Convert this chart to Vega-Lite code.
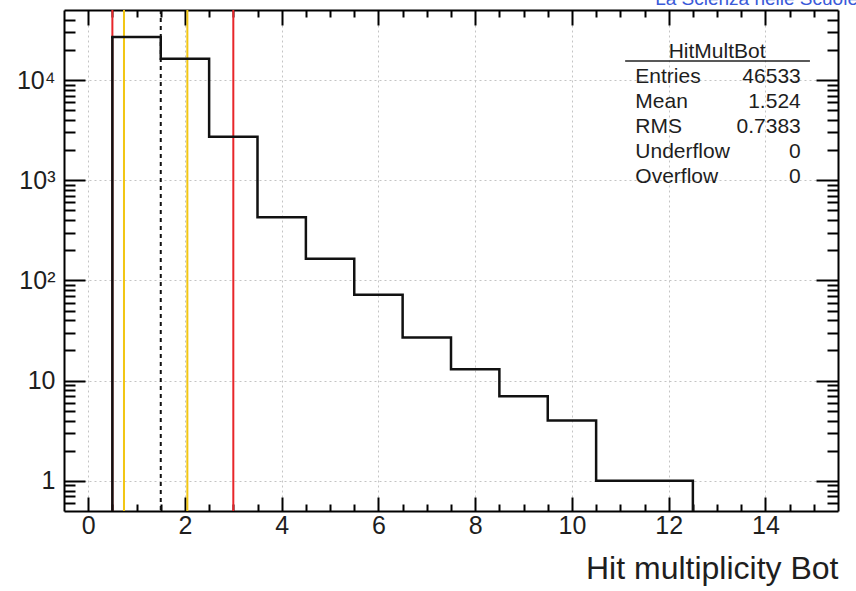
{
  "$schema": "https://vega.github.io/schema/vega-lite/v6.json",
  "width": 774,
  "height": 501,
  "autosize": {"type": "none"},
  "padding": {"left": 64, "top": 10, "right": 18, "bottom": 80},
  "background": "white",
  "config": {
    "view": {"stroke": null},
    "font": "Liberation Sans",
    "axis": {
      "labelFont": "Liberation Sans",
      "titleFont": "Liberation Sans",
      "labelColor": "#1e1e1e",
      "titleColor": "#1e1e1e",
      "domainColor": "#000000",
      "domainWidth": 2,
      "tickColor": "#000000",
      "tickWidth": 2,
      "gridColor": "#c4c4c4",
      "gridDash": [2, 3],
      "gridWidth": 1,
      "labelOverlap": false,
      "labelFlush": false,
      "zindex": 1
    }
  },
  "datasets": {
    "bins": [
      {"left": 0.5, "right": 1.5, "count": 26822},
      {"left": 1.5, "right": 2.5, "count": 16273},
      {"left": 2.5, "right": 3.5, "count": 2720},
      {"left": 3.5, "right": 4.5, "count": 428},
      {"left": 4.5, "right": 5.5, "count": 165},
      {"left": 5.5, "right": 6.5, "count": 72},
      {"left": 6.5, "right": 7.5, "count": 27},
      {"left": 7.5, "right": 8.5, "count": 13},
      {"left": 8.5, "right": 9.5, "count": 7},
      {"left": 9.5, "right": 10.5, "count": 4},
      {"left": 10.5, "right": 11.5, "count": 1},
      {"left": 11.5, "right": 12.5, "count": 1}
    ],
    "cuts": [
      {"pos": 0.5, "style": "red"},
      {"pos": 3.0, "style": "red"},
      {"pos": 0.74, "style": "yellow"},
      {"pos": 2.05, "style": "yellow"},
      {"pos": 1.5, "style": "dashed"}
    ],
    "stats": [
      {"stat": "HitMultBot", "value": ""},
      {"stat": "Entries", "value": "46533"},
      {"stat": "Mean", "value": "1.524"},
      {"stat": "RMS", "value": "0.7383"},
      {"stat": "Underflow", "value": "0"},
      {"stat": "Overflow", "value": "0"}
    ]
  },
  "resolve": {
    "scale": {"y": "independent"},
    "axis": {"x": "independent", "y": "independent"}
  },
  "layer": [
    {
      "resolve": {"axis": {"x": "independent", "y": "independent"}},
      "layer": [
        {
          "data": {"name": "cuts"},
          "mark": {"type": "rule", "strokeWidth": 2},
          "encoding": {
            "x": {"field": "pos", "type": "quantitative", "scale": {"domain": [-0.5, 15.5], "nice": false, "zero": false}, "axis": null},
            "color": {"field": "style", "type": "nominal", "scale": {"domain": ["red", "yellow", "dashed"], "range": ["#e8262a", "#f2c614", "#111111"]}, "legend": null},
            "strokeDash": {"field": "style", "type": "nominal", "scale": {"domain": ["red", "yellow", "dashed"], "range": [[1, 0], [1, 0], [4, 4]]}, "legend": null}
          }
        },
        {
          "data": {"name": "bins"},
          "transform": [{"fold": ["left", "right"], "as": ["edge", "x"]}],
          "mark": {"type": "line", "color": "#111111", "strokeWidth": 2.5, "strokeJoin": "miter", "strokeCap": "square"},
          "encoding": {
            "x": {
              "field": "x", "type": "quantitative",
              "scale": {"domain": [-0.5, 15.5], "nice": false, "zero": false},
              "axis": {
                "orient": "bottom",
                "values": [0, 0.5, 1, 1.5, 2, 2.5, 3, 3.5, 4, 4.5, 5, 5.5, 6, 6.5, 7, 7.5, 8, 8.5, 9, 9.5, 10, 10.5, 11, 11.5, 12, 12.5, 13, 13.5, 14, 14.5, 15],
                "labelExpr": "datum.value % 2 == 0 ? format(datum.value, 'd') : ''",
                "labelFontSize": 25,
                "labelBaseline": "top",
                "labelPadding": 16,
                "tickSize": {"condition": {"test": "datum.value % 2 == 0", "value": -14}, "value": -7},
                "gridOpacity": {"condition": {"test": "datum.value % 2 == 0", "value": 1}, "value": 0},
                "grid": true,
                "title": "Hit multiplicity Bot",
                "titleFontSize": 32,
                "titleFontWeight": "normal",
                "titleAnchor": "end",
                "titleAlign": "right",
                "titleBaseline": "alphabetic",
                "titleX": 774,
                "titleY": 67
              }
            },
            "y": {
              "field": "count", "type": "quantitative",
              "scale": {"type": "log", "domain": [0.5, 50000], "nice": false},
              "axis": {
                "orient": "left",
                "values": [0.6, 0.7, 0.8, 0.9, 1, 2, 3, 4, 5, 6, 7, 8, 9, 10, 20, 30, 40, 50, 60, 70, 80, 90, 100, 200, 300, 400, 500, 600, 700, 800, 900, 1000, 2000, 3000, 4000, 5000, 6000, 7000, 8000, 9000, 10000, 20000, 30000, 40000],
                "labelExpr": "datum.value == 1 ? '1' : datum.value == 10 ? '10' : datum.value == 100 ? '10²' : datum.value == 1000 ? '10³' : datum.value == 10000 ? '10⁴' : ''",
                "labelFontSize": 25,
                "labelBaseline": "middle",
                "labelPadding": 30,
                "tickSize": {"condition": {"test": "abs(log(datum.value)/LN10 - round(log(datum.value)/LN10)) < 0.001", "value": -21}, "value": -11},
                "gridOpacity": {"condition": {"test": "abs(log(datum.value)/LN10 - round(log(datum.value)/LN10)) < 0.001", "value": 1}, "value": 0},
                "grid": true,
                "title": null
              }
            },
            "order": [
              {"field": "left", "type": "quantitative"},
              {"field": "edge", "type": "ordinal"}
            ]
          }
        },
        {
          "data": {"name": "bins"},
          "transform": [
            {"joinaggregate": [{"op": "min", "field": "left", "as": "first"}]},
            {"filter": "datum.left == datum.first"}
          ],
          "mark": {"type": "rule", "color": "#111111", "strokeWidth": 2.5},
          "encoding": {
            "x": {
              "field": "left", "type": "quantitative",
              "scale": {"domain": [-0.5, 15.5], "nice": false, "zero": false},
              "axis": {
                "orient": "top",
                "values": [0, 0.5, 1, 1.5, 2, 2.5, 3, 3.5, 4, 4.5, 5, 5.5, 6, 6.5, 7, 7.5, 8, 8.5, 9, 9.5, 10, 10.5, 11, 11.5, 12, 12.5, 13, 13.5, 14, 14.5, 15],
                "labels": false,
                "tickSize": {"condition": {"test": "datum.value % 2 == 0", "value": -15}, "value": -7},
                "grid": false,
                "title": null
              }
            },
            "y": {
              "field": "count", "type": "quantitative",
              "scale": {"type": "log", "domain": [0.5, 50000], "nice": false},
              "axis": {
                "orient": "right",
                "values": [0.6, 0.7, 0.8, 0.9, 1, 2, 3, 4, 5, 6, 7, 8, 9, 10, 20, 30, 40, 50, 60, 70, 80, 90, 100, 200, 300, 400, 500, 600, 700, 800, 900, 1000, 2000, 3000, 4000, 5000, 6000, 7000, 8000, 9000, 10000, 20000, 30000, 40000],
                "labels": false,
                "tickSize": {"condition": {"test": "abs(log(datum.value)/LN10 - round(log(datum.value)/LN10)) < 0.001", "value": -22}, "value": -11},
                "grid": false,
                "title": null
              }
            },
            "y2": {"datum": 0.5}
          }
        },
        {
          "data": {"name": "bins"},
          "transform": [
            {"joinaggregate": [{"op": "max", "field": "right", "as": "last"}]},
            {"filter": "datum.right == datum.last"}
          ],
          "mark": {"type": "rule", "color": "#111111", "strokeWidth": 2.5},
          "encoding": {
            "x": {"field": "right", "type": "quantitative", "axis": null},
            "y": {"field": "count", "type": "quantitative", "scale": {"type": "log", "domain": [0.5, 50000], "nice": false}, "axis": null},
            "y2": {"datum": 0.5}
          }
        },
        {
          "data": {"name": "stats"},
          "transform": [{"filter": "datum.stat == 'HitMultBot'"}],
          "mark": {"type": "rule", "color": "#222222", "strokeWidth": 1.5},
          "encoding": {
            "x": {"datum": 11.1, "type": "quantitative", "axis": null},
            "x2": {"datum": 14.92},
            "y": {"datum": 15487, "type": "quantitative", "axis": null}
          }
        },
        {
          "data": {"values": [{"caption": "La Scienza nelle Scuole"}]},
          "mark": {"type": "text", "align": "left", "baseline": "alphabetic", "fontSize": 19, "color": "#3a5ad8"},
          "encoding": {
            "x": {"datum": 11.72, "type": "quantitative", "axis": null},
            "y": {"datum": 56100, "type": "quantitative", "axis": null},
            "text": {"field": "caption"}
          }
        }
      ]
    },
    {
      "data": {"name": "stats"},
      "encoding": {
        "y": {
          "field": "stat", "type": "ordinal", "sort": null,
          "scale": {"type": "point", "domain": ["HitMultBot", "Entries", "Mean", "RMS", "Underflow", "Overflow"], "range": [31, 156], "padding": 0},
          "axis": null
        }
      },
      "layer": [
        {
          "transform": [{"filter": "datum.stat == 'HitMultBot'"}],
          "mark": {"type": "text", "align": "center", "baseline": "top", "fontSize": 21, "color": "#1e1e1e"},
          "encoding": {
            "x": {"datum": 13.0, "type": "quantitative", "axis": null},
            "text": {"field": "stat"}
          }
        },
        {
          "transform": [{"filter": "datum.stat != 'HitMultBot'"}],
          "mark": {"type": "text", "align": "left", "baseline": "top", "fontSize": 21, "color": "#1e1e1e"},
          "encoding": {
            "x": {"datum": 11.31, "type": "quantitative", "axis": null},
            "text": {"field": "stat"}
          }
        },
        {
          "transform": [{"filter": "datum.stat != 'HitMultBot'"}],
          "mark": {"type": "text", "align": "right", "baseline": "top", "fontSize": 21, "color": "#1e1e1e"},
          "encoding": {
            "x": {"datum": 14.73, "type": "quantitative", "axis": null},
            "text": {"field": "value"}
          }
        }
      ]
    }
  ]
}
